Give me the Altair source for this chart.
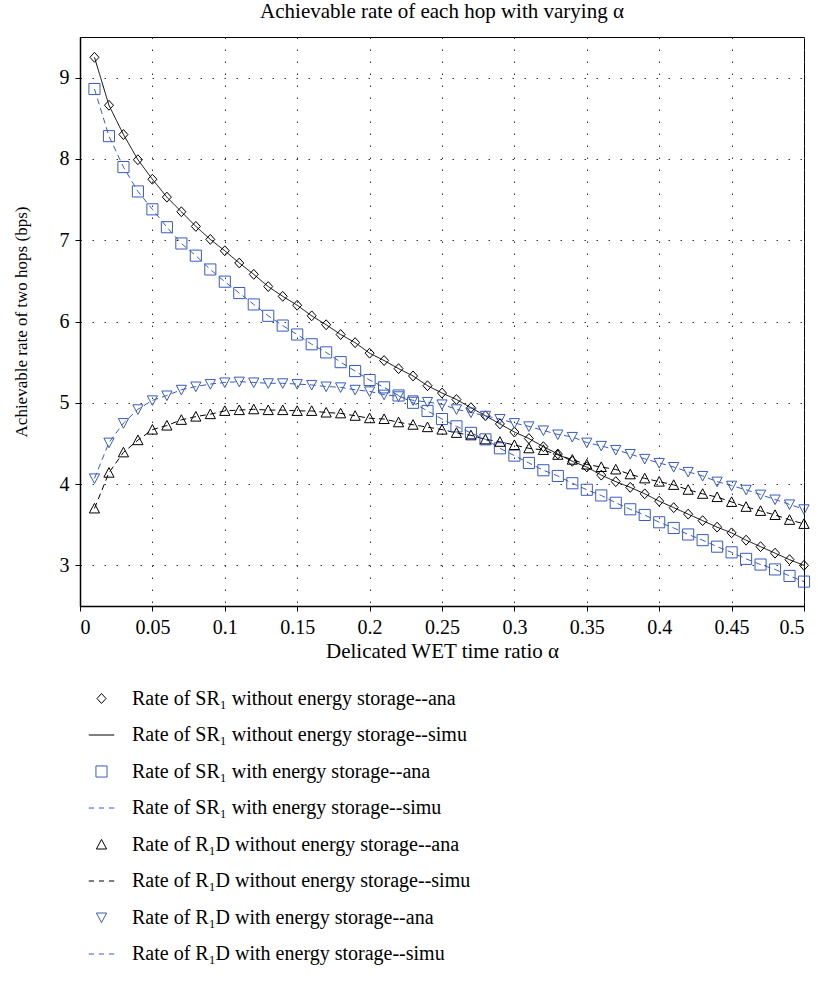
import altair as alt
import pandas as pd

alpha = [round(0.01 * i, 2) for i in range(1, 51)]

sr_without = [9.25, 8.66, 8.30, 7.99, 7.75, 7.53, 7.35, 7.17, 7.01, 6.87,
              6.72, 6.58, 6.43, 6.31, 6.20, 6.07, 5.96, 5.84, 5.74, 5.61,
              5.52, 5.42, 5.33, 5.21, 5.12, 5.04, 4.94, 4.84, 4.74, 4.64,
              4.56, 4.46, 4.37, 4.28, 4.21, 4.11, 4.03, 3.96, 3.88, 3.79,
              3.71, 3.63, 3.55, 3.47, 3.40, 3.31, 3.23, 3.15, 3.07, 3.00]
sr_with = [8.86, 8.28, 7.90, 7.60, 7.38, 7.16, 6.96, 6.81, 6.64, 6.49,
           6.35, 6.21, 6.07, 5.95, 5.84, 5.72, 5.62, 5.50, 5.39, 5.28,
           5.19, 5.09, 5.00, 4.90, 4.80, 4.71, 4.63, 4.55, 4.44, 4.35,
           4.26, 4.17, 4.10, 4.01, 3.93, 3.86, 3.77, 3.69, 3.62, 3.53,
           3.46, 3.38, 3.31, 3.23, 3.16, 3.08, 3.01, 2.95, 2.87, 2.80]
rd_without = [3.70, 4.14, 4.39, 4.54, 4.67, 4.72, 4.79, 4.83, 4.86, 4.90,
              4.91, 4.92, 4.91, 4.91, 4.90, 4.90, 4.88, 4.87, 4.84, 4.81,
              4.80, 4.76, 4.73, 4.70, 4.67, 4.63, 4.60, 4.55, 4.52, 4.48,
              4.44, 4.42, 4.36, 4.30, 4.24, 4.21, 4.18, 4.12, 4.07, 4.03,
              3.99, 3.93, 3.88, 3.84, 3.78, 3.72, 3.67, 3.62, 3.56, 3.51]
rd_with = [4.07, 4.51, 4.75, 4.92, 5.03, 5.09, 5.16, 5.20, 5.23, 5.25,
           5.26, 5.25, 5.24, 5.24, 5.23, 5.22, 5.20, 5.19, 5.16, 5.14,
           5.10, 5.08, 5.03, 5.01, 4.98, 4.92, 4.88, 4.84, 4.80, 4.75,
           4.71, 4.66, 4.61, 4.58, 4.51, 4.47, 4.42, 4.37, 4.31, 4.26,
           4.21, 4.15, 4.10, 4.03, 3.98, 3.93, 3.87, 3.81, 3.75, 3.69]

labels = [
    "Rate of SR\u2081 without energy storage--ana",
    "Rate of SR\u2081 without energy storage--simu",
    "Rate of SR\u2081 with energy storage--ana",
    "Rate of SR\u2081 with energy storage--simu",
    "Rate of R\u2081D without energy storage--ana",
    "Rate of R\u2081D without energy storage--simu",
    "Rate of R\u2081D with energy storage--ana",
    "Rate of R\u2081D with energy storage--simu",
]
series_values = [sr_without, sr_with, rd_without, rd_with]

BLUE = "#3a5bbf"
colors = ["black", "black", BLUE, BLUE, "black", "black", BLUE, BLUE]
DASH = "M-0.85,0H-0.5M-0.17,0H0.17M0.5,0H0.85"
shapes = [
    "M0,-0.33L0.3,0L0,0.33L-0.3,0Z",
    "M-0.85,0H0.85",
    "M-0.37,-0.37H0.37V0.37H-0.37Z",
    DASH,
    "M0,-0.34L0.34,0.3L-0.34,0.3Z",
    DASH,
    "M0,0.34L0.34,-0.3L-0.34,-0.3Z",
    DASH,
]

ana_rows, sim_rows = [], []
for k, vals in enumerate(series_values):
    for a, v in zip(alpha, vals):
        ana_rows.append({"alpha": a, "rate": v, "label": labels[2 * k]})
        sim_rows.append({"alpha": a, "rate": v, "label": labels[2 * k + 1]})
ana_df = pd.DataFrame(ana_rows)
sim_df = pd.DataFrame(sim_rows)

FONT = "Liberation Serif"
x_enc = alt.X("alpha:Q", scale=alt.Scale(domain=[0, 0.5], nice=False),
              axis=alt.Axis(values=[i * 0.05 for i in range(11)], format="~g",
                            title="Delicated WET time ratio \u03b1", labelPadding=6,
                            titlePadding=3, titleFontSize=21))
y_enc = alt.Y("rate:Q", scale=alt.Scale(domain=[2.5, 9.5], nice=False, zero=False),
              axis=alt.Axis(values=[3, 4, 5, 6, 7, 8, 9], title="Achievable rate of two hops (bps)",
                            labelPadding=6, titlePadding=29, titleFontSize=17))

legend = alt.Legend(orient="none", legendX=6, legendY=646, title=None, symbolSize=900,
                    labelFont=FONT, labelFontSize=20, labelColor="black", labelOffset=15,
                    rowPadding=10.5, symbolStrokeWidth=1, labelLimit=0, padding=0,
                    direction="vertical")

lines = alt.Chart(sim_df).mark_line(strokeWidth=1).encode(
    x=x_enc, y=y_enc,
    color=alt.Color("label:N", scale=alt.Scale(domain=labels[1::2], range=colors[1::2]),
                    legend=None),
    strokeDash=alt.StrokeDash("label:N",
                              scale=alt.Scale(domain=labels[1::2],
                                              range=[[1, 0], [6, 4], [6, 4], [6, 4]]),
                              legend=None),
)

points = alt.Chart(ana_df).mark_point(filled=False, size=900, strokeWidth=1, opacity=1).encode(
    x=x_enc, y=y_enc,
    color=alt.Color("label:N", scale=alt.Scale(domain=labels, range=colors), legend=legend),
    shape=alt.Shape("label:N", scale=alt.Scale(domain=labels, range=shapes), legend=legend),
)

chart = alt.layer(lines, points).resolve_scale(
    color="independent", strokeDash="independent", shape="independent"
).properties(
    width=724, height=569,
    padding={"left": 80, "top": 37, "right": 14, "bottom": 389},
    autosize="none",
    background="white",
    title=alt.TitleParams("Achievable rate of each hop with varying \u03b1", font=FONT,
                          fontSize=21, fontWeight="normal", anchor="middle", offset=15,
                          color="black"),
).configure_view(stroke="black", strokeWidth=1).configure_axis(
    domainColor="black", domainWidth=1.5, tickColor="black", tickSize=5,
    labelFont=FONT, labelFontSize=20, labelColor="black",
    titleFont=FONT, titleFontSize=19, titleFontWeight="normal", titleColor="black",
    grid=True, gridColor="#333", gridDash=[1.5, 10.5], gridWidth=1,
)

chart.save("out.html", embed_options={"renderer": "svg", "actions": False})
